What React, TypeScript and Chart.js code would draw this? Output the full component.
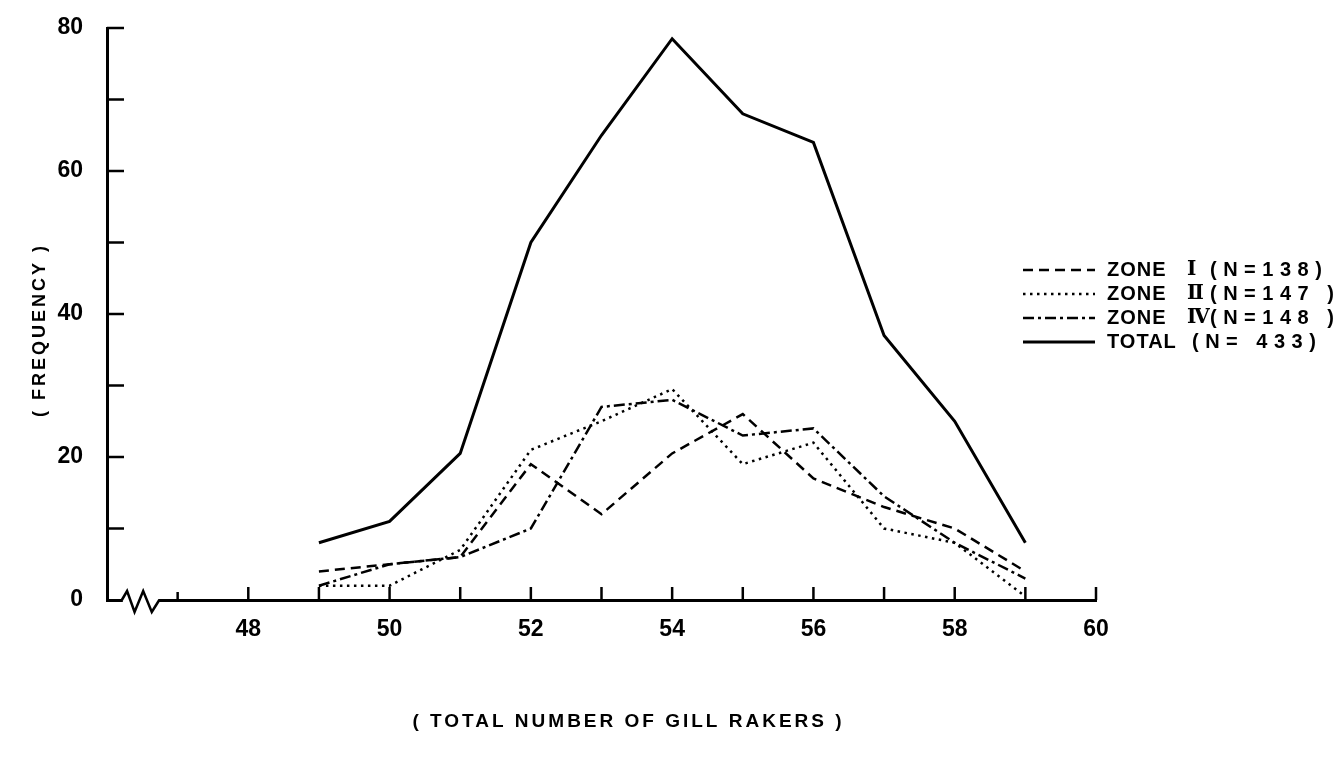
import { useEffect, useRef } from "react";
import { Chart, registerables } from "chart.js";

Chart.register(...registerables);

// Total number of gill rakers (x) and the frequency observed in each sample
const gillRakerCounts = [49, 50, 51, 52, 53, 54, 55, 56, 57, 58, 59];
const zoneOneFreq = [4, 5, 6, 19, 12, 20.5, 26, 17, 13, 10, 4];
const zoneTwoFreq = [2, 2, 7, 21, 25, 29.5, 19, 22, 10, 8, 0.5];
const zoneFourFreq = [2, 5, 6, 10, 27, 28, 23, 24, 14.5, 8, 3];
const totalFreq = [8, 11, 20.5, 50, 65, 78.5, 68, 64, 37, 25, 8];

const seriesNames = ["ZONE", "ZONE", "ZONE", "TOTAL"];
const seriesNumerals = ["Ⅰ", "Ⅱ", "Ⅳ", ""];
const sampleSizes = ["(N=138)", "(N=147 )", "(N=148 )", "(N= 433)"];

const xLabelledTicks = [48, 50, 52, 54, 56, 58, 60];
const yLabelledTicks = [0, 20, 40, 60, 80];

const xAxisTitle = "( TOTAL NUMBER OF GILL RAKERS )";
const yAxisTitle = "( FREQUENCY )";

const INK = "#000";
const FONT = "'Liberation Sans', 'DejaVu Sans', Arial, sans-serif";

const toPoints = (ys: number[]) => gillRakerCounts.map((x, i) => ({ x, y: ys[i] }));

// Inward ticks, the broken x axis, the axis titles and the legend
const paperAxes = {
  id: "paperAxes",
  afterDraw(chart: any) {
    const { ctx, chartArea: a, scales } = chart;
    const xs = scales.x;
    const ys = scales.y;
    const seg = (x1: number, y1: number, x2: number, y2: number) => {
      ctx.beginPath();
      ctx.moveTo(x1, y1);
      ctx.lineTo(x2, y2);
      ctx.stroke();
    };
    ctx.save();
    ctx.strokeStyle = INK;
    ctx.fillStyle = INK;
    ctx.lineWidth = 2.5;
    ctx.setLineDash([]);

    // y ticks point into the plot
    for (let v = 10; v <= 80; v += 10) {
      const py = ys.getPixelForValue(v);
      seg(a.left, py, a.left + 17, py);
    }
    // x ticks point upward
    for (let v = 47; v <= 60; v++) {
      const px = xs.getPixelForValue(v);
      seg(px, a.bottom, px, a.bottom - (v === 47 ? 8 : 13));
    }

    // axis break (zigzag) near the origin
    const bx0 = xs.getPixelForValue(46.21);
    const bx1 = xs.getPixelForValue(46.74);
    ctx.fillStyle = "#fff";
    ctx.fillRect(bx0 + 1, a.bottom - 3, bx1 - bx0 - 2, 6);
    ctx.fillStyle = INK;
    const fr = [0, 0.14, 0.34, 0.57, 0.8, 1];
    const dy = [0, -9, 12, -9, 12, 0];
    ctx.lineWidth = 2.5;
    ctx.lineJoin = "miter";
    ctx.beginPath();
    fr.forEach((f, i) => {
      const px = bx0 + f * (bx1 - bx0);
      if (i === 0) ctx.moveTo(px, a.bottom + dy[i]);
      else ctx.lineTo(px, a.bottom + dy[i]);
    });
    ctx.stroke();

    // axis titles
    ctx.font = `bold 19px ${FONT}`;
    (ctx as any).letterSpacing = "3px";
    ctx.textAlign = "center";
    ctx.textBaseline = "middle";
    ctx.fillText(xAxisTitle, (a.left + a.right) / 2 + 27, a.bottom + 122);
    ctx.save();
    ctx.translate(40, (a.top + a.bottom) / 2 + 16);
    ctx.rotate(-Math.PI / 2);
    ctx.font = `bold 18px ${FONT}`;
    ctx.fillText(yAxisTitle, 0, 0);
    ctx.restore();

    // legend
    const rowTop = a.top + 242;
    const rowGap = 24;
    chart.data.datasets.forEach((ds: any, i: number) => {
      const ry = rowTop + i * rowGap;
      ctx.save();
      ctx.lineWidth = ds.borderWidth;
      ctx.setLineDash(ds.borderDash || []);
      seg(a.right - 73, ry, a.right - 1, ry);
      ctx.restore();
      ctx.font = `bold 20px ${FONT}`;
      ctx.textAlign = "left";
      (ctx as any).letterSpacing = "1px";
      ctx.fillText(seriesNames[i], a.right + 11, ry);
      ctx.font = `bold 20px 'DejaVu Serif', serif`;
      (ctx as any).letterSpacing = "0px";
      ctx.fillText(seriesNumerals[i], a.right + 91, ry);
      ctx.font = `bold 20px ${FONT}`;
      (ctx as any).letterSpacing = "6.5px";
      ctx.fillText(sampleSizes[i], a.right + (i === 3 ? 96 : 114), ry);
    });
    ctx.restore();
  },
};

export default function App() {
  const canvasRef = useRef<HTMLCanvasElement | null>(null);

  useEffect(() => {
    document.body.style.margin = "0";
    const canvas = canvasRef.current;
    if (!canvas) return;

    const chart = new Chart(canvas, {
      type: "line",
      data: {
        datasets: [
          {
            label: "ZONE Ⅰ (N=138)",
            data: toPoints(zoneOneFreq),
            borderColor: INK,
            borderWidth: 2.5,
            borderDash: [10, 6],
            pointRadius: 0,
          },
          {
            label: "ZONE Ⅱ (N=147)",
            data: toPoints(zoneTwoFreq),
            borderColor: INK,
            borderWidth: 2.5,
            borderDash: [2.5, 4.5],
            pointRadius: 0,
          },
          {
            label: "ZONE Ⅳ (N=148)",
            data: toPoints(zoneFourFreq),
            borderColor: INK,
            borderWidth: 2.5,
            borderDash: [11, 4, 3, 4],
            pointRadius: 0,
          },
          {
            label: "TOTAL (N=433)",
            data: toPoints(totalFreq),
            borderColor: INK,
            borderWidth: 3,
            pointRadius: 0,
          },
        ],
      },
      options: {
        animation: false,
        responsive: false,
        maintainAspectRatio: false,
        layout: { padding: { left: 0, right: 244, top: 28, bottom: 0 } },
        plugins: {
          legend: { display: false },
          tooltip: { enabled: false },
        },
        elements: { line: { tension: 0, borderCapStyle: "butt" } },
        scales: {
          x: {
            type: "linear",
            min: 46,
            max: 60,
            afterFit: (s: any) => {
              s.height = 164;
              s.paddingLeft = 0;
              s.paddingRight = 0;
            },
            border: { display: true, color: INK, width: 3 },
            grid: { display: true, drawOnChartArea: false, drawTicks: false },
            ticks: {
              stepSize: 1,
              autoSkip: false,
              maxRotation: 0,
              padding: 16,
              color: INK,
              font: { family: FONT, size: 23, weight: "bold" },
              callback: (v: any) => (xLabelledTicks.includes(Number(v)) ? String(v) : ""),
            },
          },
          y: {
            min: 0,
            max: 80,
            afterFit: (s: any) => {
              s.width = 107;
              s.paddingTop = 0;
              s.paddingBottom = 0;
            },
            border: { display: true, color: INK, width: 3 },
            grid: { display: true, drawOnChartArea: false, drawTicks: false },
            ticks: {
              stepSize: 10,
              autoSkip: false,
              padding: 24,
              color: INK,
              font: { family: FONT, size: 23, weight: "bold" },
              callback: (v: any) => (yLabelledTicks.includes(Number(v)) ? String(v) : ""),
            },
          },
        },
      },
      plugins: [paperAxes],
    });

    return () => chart.destroy();
  }, []);

  return (
    <div style={{ width: 1340, height: 764, background: "#fff" }}>
      <canvas ref={canvasRef} width={1340} height={764} style={{ display: "block" }} />
    </div>
  );
}
